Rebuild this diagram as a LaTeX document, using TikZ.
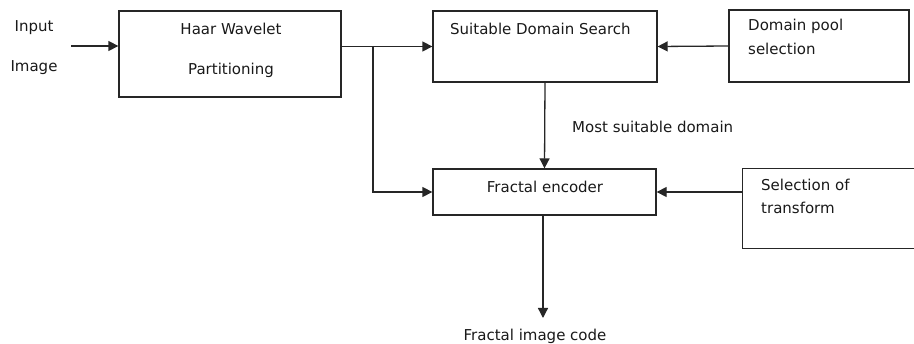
\documentclass[tikz,border=0pt]{standalone}
\usepackage{fontspec}
\setmainfont{DejaVu Sans}
\usetikzlibrary{arrows.meta}
\begin{document}
\begin{tikzpicture}[x=1pt,y=-1pt,
  box/.style={draw=black!85,line width=1.3pt,rectangle,inner sep=0pt},
  lbl/.style={font=\fontsize{15}{17}\selectfont,inner sep=0pt,text=black!90},
  arr/.style={draw=black!85,line width=1.3pt,-{Triangle[length=10pt,width=10pt]}},
  ln/.style={draw=black!85,line width=1.3pt}]
\useasboundingbox (0,0) rectangle (914,344);
\clip (0,0) rectangle (914,344);
% boxes
\node[box,minimum width=222pt,minimum height=86pt] (haar) at (230,54) {};
\node[box,minimum width=224pt,minimum height=71pt] (sds) at (545,46.5) {};
\node[box,minimum width=180pt,minimum height=72pt] (dp) at (819,46) {};
\node[box,minimum width=223pt,minimum height=46pt] (fe) at (544.5,192) {};
\node[box,draw=none,minimum width=200pt,minimum height=79pt] (sel) at (843,208.5) {};
\draw[ln] (sel.north east) -- (sel.north west) -- (sel.south west) -- (sel.south east);
% texts
\node[lbl] (t1) at (34,28) {Input};
\node[lbl] (t2) at (34,68) {Image};
\node[lbl] (t3) at (231,29) {Haar Wavelet};
\node[lbl] (t4) at (231,70) {Partitioning};
\node[lbl,anchor=west] (t5) at (450,29) {Suitable Domain Search};
\node[lbl,anchor=west] (t6) at (748,26) {Domain pool};
\node[lbl,anchor=west] (t7) at (748,49) {selection};
\node[lbl,anchor=west] (t8) at (572,127) {Most suitable domain};
\node[lbl] (t9) at (545,187) {Fractal encoder};
\node[lbl,anchor=west] (t10) at (761,185) {Selection of};
\node[lbl,anchor=west] (t11) at (761,208) {transform};
\node[lbl] (out) at (535,336) {Fractal image code};
% connectors
\coordinate (in) at (71,46);
\coordinate (br) at (373,46);
\coordinate (outtip) at (543,318);
\draw[arr] (in) -- (in -| haar.west);
\draw[arr] (sds.west -| haar.east) -- (sds.west);
\draw[arr] (br) |- (fe.west);
\draw[arr] (dp.west) -- (sds.east);
\draw[arr] (sds.south) -- (fe.north);
\draw[arr] (fe.east -| sel.west) -- (fe.east);
\draw[arr] (fe.south -| outtip) -- (outtip);
\end{tikzpicture}
\end{document}
